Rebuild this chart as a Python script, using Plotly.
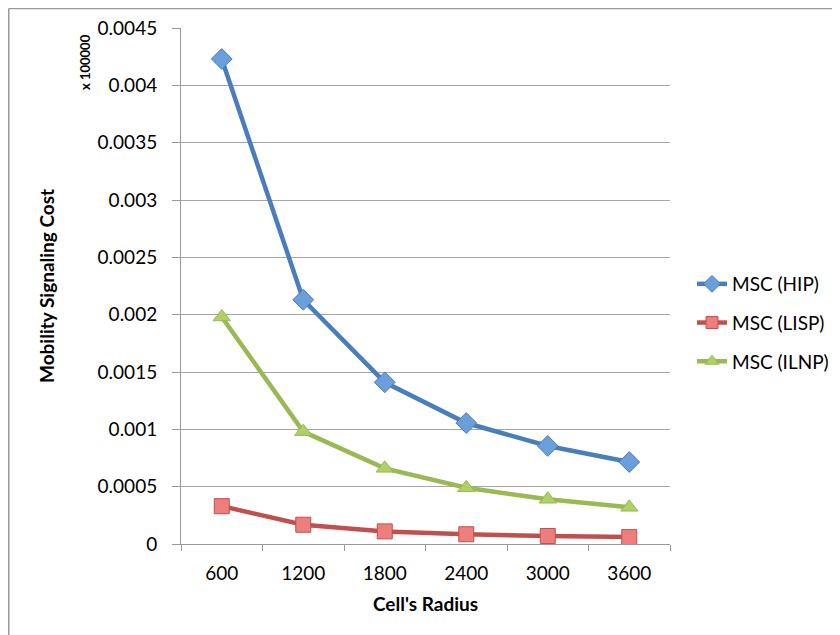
import plotly.graph_objects as go

categories = ["600", "1200", "1800", "2400", "3000", "3600"]
msc_hip = [0.00423, 0.00213, 0.00141, 0.001055, 0.000855, 0.000715]
msc_lisp = [0.00033, 0.000168, 0.00011, 0.000085, 0.00007, 0.00006]
msc_ilnp = [0.00198, 0.00098, 0.00066, 0.00049, 0.00039, 0.00032]
y_tickvals = [0, 0.0005, 0.001, 0.0015, 0.002, 0.0025, 0.003, 0.0035, 0.004, 0.0045]
y_ticktext = ["0", "0.0005", "0.001", "0.0015", "0.002", "0.0025", "0.003", "0.0035", "0.004", "0.0045"]

OFF = 8  # default page body margin
W, H = 840 - OFF, 635 - OFF
L, T = 181 - OFF, 28 - OFF
R = W - (670 - OFF)
B = H - (544 - OFF)
pw, ph = W - L - R, H - T - B

def px(x):
    return (x - OFF - L) / pw

def py(y):
    return (H - B - (y - OFF)) / ph

FONT = "Lato"
fig = go.Figure()

series = [
    ("MSC (HIP)", msc_hip, "#4A7EBB", "#6A9FDB", "diamond", 16, 13),
    ("MSC (LISP)", msc_lisp, "#C0504D", "#EE7E7B", "square", 15, 12),
    ("MSC (ILNP)", msc_ilnp, "#98B954", "#ADD067", "triangle-up", 15, 12),
]
for i, (name, vals, lc, mc, sym, ms, lms) in enumerate(series):
    fig.add_trace(go.Scatter(
        x=categories, y=vals, name=name, mode="lines+markers",
        line=dict(color=lc, width=4.5),
        marker=dict(symbol=sym, size=ms, color=mc, line=dict(color=lc, width=1)),
        legendgroup=str(i), showlegend=False,
    ))
    # legend entry with smaller marker
    fig.add_trace(go.Scatter(
        x=[None], y=[None], name=name, mode="lines+markers",
        line=dict(color=lc, width=4.5),
        marker=dict(symbol=sym, size=lms, color=mc, line=dict(color=lc, width=1)),
        legendgroup=str(i), showlegend=True,
    ))

fig.update_layout(
    width=W, height=H,
    margin=dict(l=L, r=R, t=T, b=B, autoexpand=False),
    paper_bgcolor="white", plot_bgcolor="white",
    font=dict(family=FONT, size=19, color="black"),
    showlegend=True,
    legend=dict(x=px(692), y=py(323), xanchor="left", yanchor="middle",
                font=dict(family=FONT, size=19, color="black"),
                traceorder="grouped", tracegroupgap=11,
                bgcolor="rgba(0,0,0,0)", itemwidth=30),
    xaxis=dict(type="category", showline=True, linecolor="#9a9a9a", linewidth=1,
               ticks="outside", tickson="boundaries", ticklen=6, tickcolor="#9a9a9a",
               showgrid=False, tickfont=dict(family=FONT, size=19),
               ticklabelstandoff=12, range=[-0.5, 5.5]),
    yaxis=dict(range=[0, 0.0045], tickvals=y_tickvals, ticktext=y_ticktext,
               showline=True, linecolor="#9a9a9a", linewidth=1,
               ticks="outside", ticklen=8, tickcolor="#9a9a9a",
               showgrid=True, gridcolor="#a6a6a6", gridwidth=1,
               zeroline=False, tickfont=dict(family=FONT, size=19),
               ticklabelstandoff=11),
    annotations=[
        dict(text="<b>Mobility Signaling Cost</b>", x=px(46), y=0.5, xref="paper", yref="paper",
             textangle=-90, showarrow=False, font=dict(family=FONT, size=19),
             xanchor="center", yanchor="middle"),
        dict(text="<b>Cell's Radius</b>", x=0.5, y=py(603), xref="paper", yref="paper",
             showarrow=False, font=dict(family=FONT, size=19),
             xanchor="center", yanchor="middle"),
        dict(text="<b>x 100000</b>", x=px(85), y=py(62), xref="paper", yref="paper",
             textangle=-90, showarrow=False, font=dict(family=FONT, size=13),
             xanchor="center", yanchor="middle"),
    ],
    shapes=[
        dict(type="line", xref="paper", yref="paper", x0=px(8.75), y0=py(8.5), x1=px(845), y1=py(8.5),
             line=dict(color="#9a9a9a", width=1.5)),
        dict(type="line", xref="paper", yref="paper", x0=px(8.75), y0=py(8.5), x1=px(8.75), y1=py(640),
             line=dict(color="#9a9a9a", width=1.5)),
    ],
)

fig.write_html("out.html")
